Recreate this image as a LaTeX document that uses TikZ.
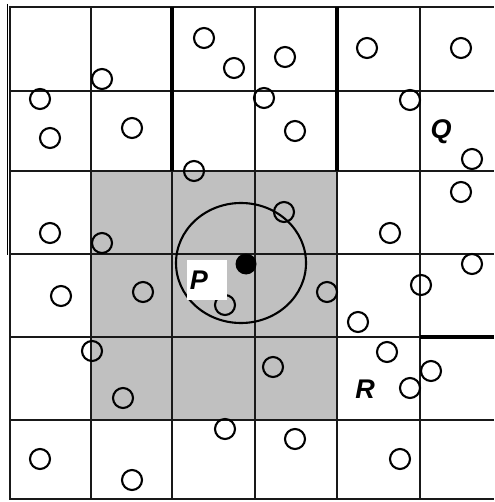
\documentclass[tikz,border=0pt]{standalone}
\usepackage{fontspec}
\setmainfont{Liberation Sans}
\definecolor{cellgray}{RGB}{192,192,192}
\begin{document}
\begin{tikzpicture}[x=1pt,y=-1pt,
  gridline/.style={line width=2.5pt,draw=black!90},
  thickline/.style={line width=3.2pt,draw=black},
  pt/.style={line width=2.1pt,draw=black},
  lbl/.style={font=\fontsize{27}{27}\selectfont\bfseries\itshape,inner sep=0pt}]
\useasboundingbox (0,0) rectangle (494,502);
% shaded 3x3 block
\fill[cellgray] (91,171) rectangle (337,420);
% grid
\foreach \x in {91,172,255,337,420} \draw[gridline] (\x,7) -- (\x,499);
\draw[gridline] (10,6) -- (10,500);
\foreach \y in {7,91,171,254,337,420,499} \draw[gridline] (10,\y) -- (494,\y);
\draw[thickline] (172,7) -- (172,171);
\draw[thickline] (337,7) -- (337,171);
\draw[thickline] (420,337) -- (494,337);
% thin margin line on the left
\draw[line width=1pt] (7,4) -- (7,255);
% small circles
\foreach \cx/\cy in {204/38,234/68,285/57,367/48,461/48,102/79,40/99,264/98,410/100,
  50/138,132/128,295/131,472/159,194/171,461/192,284/212,50/233,102/243,390/233,
  472/264,61/296,143/292,225/305,327/292,421/285,358/322,92/351,387/352,431/371,
  410/388,123/398,273/367,225/429,295/439,40/459,132/480,400/459}
  \draw[pt] (\cx,\cy) circle[radius=10];
% neighbourhood circle and query point
\draw[pt] (241,263) ellipse[x radius=65,y radius=60];
\fill (246,264) circle[radius=10.5];
% labels
\fill[white] (187,260) rectangle (227,300);
\node[lbl] (P) at (199,280) {P};
\node[lbl] (Q) at (441,132) {Q};
\node[lbl] (R) at (365,389) {R};
\end{tikzpicture}
\end{document}
